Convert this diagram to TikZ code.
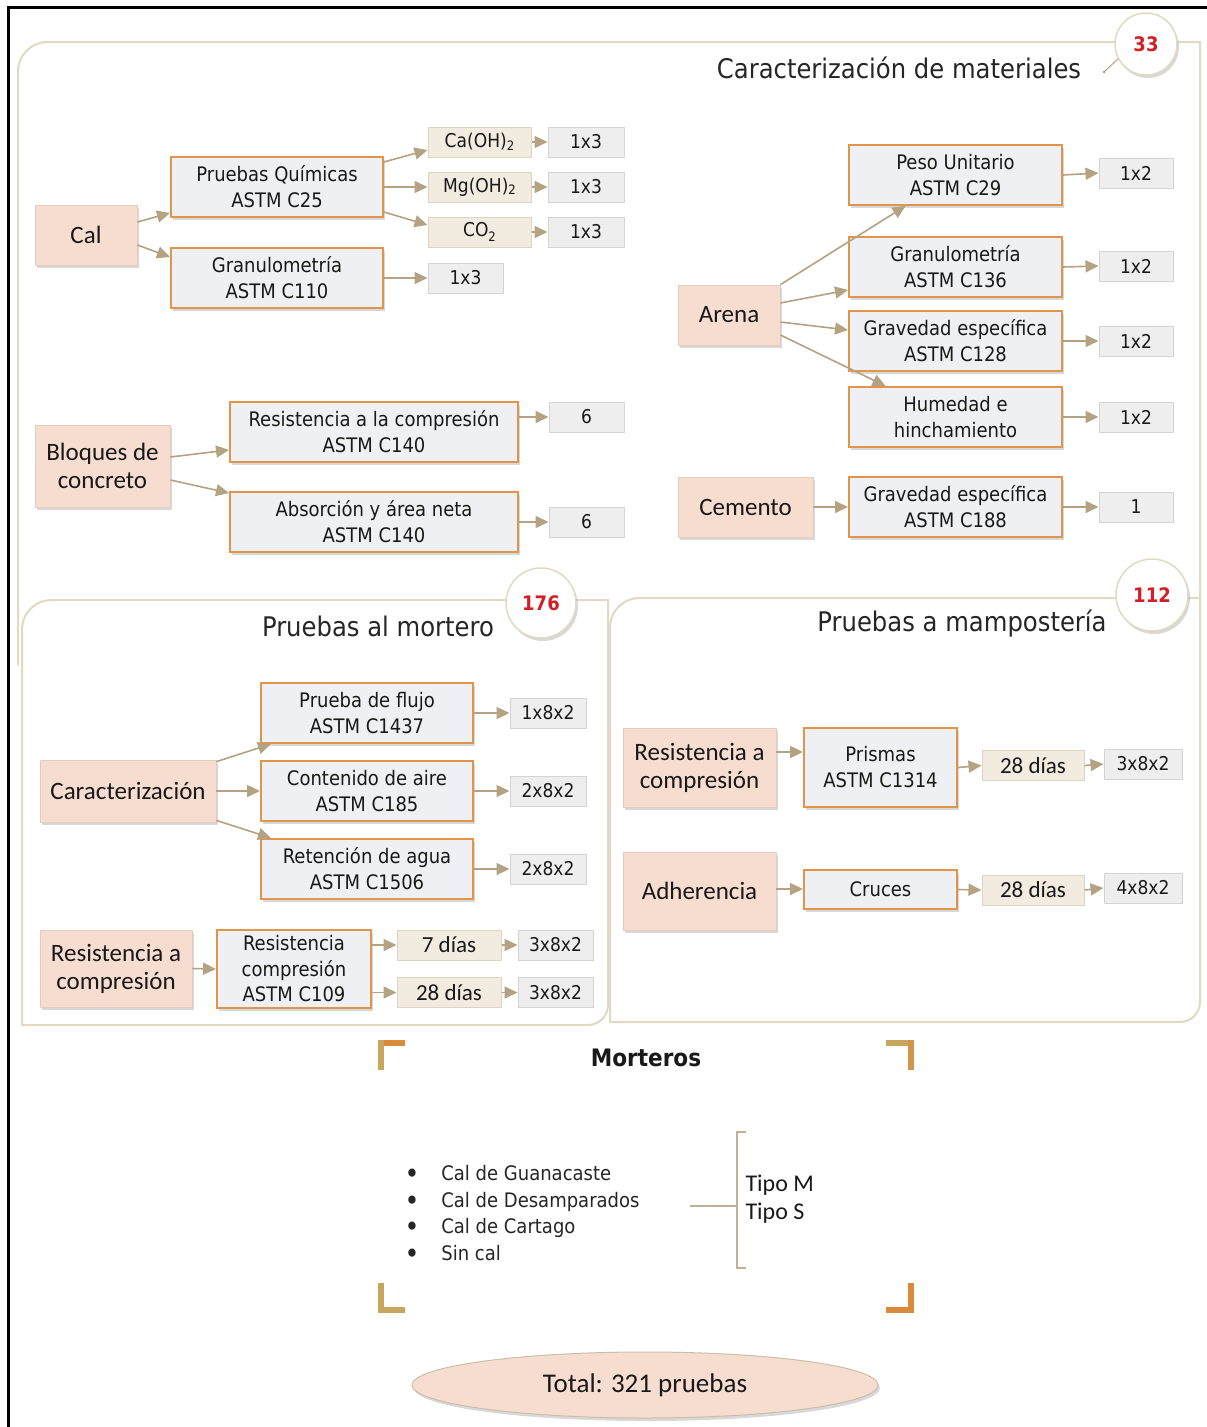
\documentclass[tikz,border=0pt]{standalone}
\usepackage{fontspec}
\newfontfamily\dv[FakeStretch=0.9]{DejaVu Sans}
\newfontfamily\cb{Carlito}
\usetikzlibrary{arrows.meta,shadows,shapes.geometric}
\definecolor{peach}{HTML}{F6DDCF}
\definecolor{peachd}{HTML}{E6CCBA}
\definecolor{tgray}{HTML}{EFF0F3}
\definecolor{torange}{HTML}{E0954A}
\definecolor{cgray}{HTML}{EEEEEE}
\definecolor{cgrayd}{HTML}{D4D4D4}
\definecolor{beige}{HTML}{F2EBDF}
\definecolor{beiged}{HTML}{DDD4C2}
\definecolor{arrc}{HTML}{B3A382}
\definecolor{secc}{HTML}{E2D9C2}
\definecolor{numred}{HTML}{D21F26}
\definecolor{brO}{HTML}{D98A3A}
\definecolor{brG}{HTML}{C9A65E}
\tikzset{
  shd/.style={drop shadow={shadow xshift=2pt, shadow yshift=-3pt, opacity=0.25, fill=black!60}},
  peachbox/.style={rectangle, fill=peach, draw=peachd, line width=0.8pt, shd, inner sep=0pt,
    align=center, text=black!90, font=\cb\fontsize{25}{28}\selectfont},
  testbox/.style={rectangle, fill=tgray, draw=torange, line width=2pt, inner sep=0pt, shd,
    align=center, text=black!90, font=\dv\fontsize{20}{26}\selectfont},
  cntbox/.style={rectangle, fill=cgray, draw=cgrayd, line width=1pt, inner sep=0pt,
    minimum height=30pt, align=center, text=black!90, font=\dv\fontsize{19}{22}\selectfont},
  beigebox/.style={rectangle, fill=beige, draw=beiged, line width=1pt, inner sep=0pt,
    minimum height=30pt, align=center, text=black!90, font=\dv\fontsize{19}{22}\selectfont},
  daybox/.style={beigebox, font=\cb\fontsize{23}{26}\selectfont},
  arr/.style={draw=arrc, line width=1.6pt, -{Triangle[length=13pt,width=12pt]}},
  secline/.style={draw=secc, line width=2pt},
  numcirc/.style={circle, fill=white, draw=secc, line width=1.5pt, shd, inner sep=0pt,
    text=numred, font=\dv\bfseries\fontsize{20}{22}\selectfont},
  sectitle/.style={text=black!85, font=\dv\fontsize{27}{30}\selectfont},
  brk/.style={line width=6pt}
}
\newcommand\subtwo{\raisebox{-0.25ex}{\fontsize{13}{13}\selectfont 2}}
\newcommand\bul{\raisebox{-0.25ex}{\fontsize{28}{20}\selectfont •}\hspace{22pt}}
\begin{document}
\begin{tikzpicture}[x=1pt,y=-1pt]
\useasboundingbox (0,0) rectangle (1207,1427);
\fill[white] (0,0) rectangle (1207,1427);
% outer frame
\draw[black, line width=3pt] (8,1427) -- (8,7) -- (1207,7);

% section frames
\draw[secline] (18,665) -- (18,72) .. controls (18,55) and (31,42) .. (48,42) -- (1200,42) -- (1200,598);
\draw[secline] (610,1022) -- (610,628) .. controls (610,611) and (623,598) .. (640,598) -- (1200,598)
   -- (1200,1002) .. controls (1200,1013) and (1191,1022) .. (1180,1022) -- cycle;
\draw[secline, fill=white] (22,1025) -- (22,630) .. controls (22,613) and (35,600) .. (52,600) -- (608,600)
   -- (608,1005) .. controls (608,1016) and (599,1025) .. (588,1025) -- cycle;

% circles and titles
\node[numcirc, minimum size=62pt] (c33) at (1146,44) {33};
\coordinate (tail33) at (1104,72);
\draw[arrc, line width=1pt] (c33.208) -- (tail33);
\fill[arrc] (tail33) circle (1.5pt);
\node[sectitle] (t1) at (899,68) {Caracterización de materiales};
\node[numcirc, minimum size=70pt] (c176) at (541,603) {176};
\node[sectitle] (t2) at (378,626) {Pruebas al mortero};
\node[numcirc, minimum size=72pt] (c112) at (1152,595) {112};
\node[sectitle] (t3) at (962,624) {Pruebas a mampostería};

% ---- Cal
\node[peachbox, minimum width=102pt, minimum height=60pt] (cal) at (86,235) {Cal};
\node[testbox, minimum width=212pt, minimum height=60pt] (pq) at (277,187) {Pruebas Químicas\\ASTM C25};
\node[testbox, minimum width=212pt, minimum height=60pt] (gr1) at (277,278) {Granulometría\\ASTM C110};
\node[beigebox, minimum width=103pt] (caoh) at (479.5,142) {Ca(OH)\subtwo};
\node[beigebox, minimum width=103pt] (mgoh) at (479.5,187) {Mg(OH)\subtwo};
\node[beigebox, minimum width=103pt] (co2) at (479.5,232) {CO\raisebox{-0.45ex}{\fontsize{13}{13}\selectfont 2}};
\node[cntbox, minimum width=76pt] (k1) at (586,142) {1x3};
\node[cntbox, minimum width=76pt] (k2) at (586,187) {1x3};
\node[cntbox, minimum width=76pt] (k3) at (586,232) {1x3};
\node[cntbox, minimum width=75pt] (k4) at (465.5,278) {1x3};
\draw[arr] ([yshift=13pt]cal.east) -- ([yshift=-26pt]pq.west);
\draw[arr] ([yshift=-10pt]cal.east) -- ([yshift=21pt]gr1.west);
\draw[arr] ([yshift=25pt]pq.east) -- ([yshift=-8pt]caoh.west);
\draw[arr] (pq.east) -- (mgoh.west);
\draw[arr] ([yshift=-25pt]pq.east) -- ([yshift=7pt]co2.west);
\draw[arr] (caoh.east) -- (k1.west);
\draw[arr] (mgoh.east) -- (k2.west);
\draw[arr] (co2.east) -- (k3.west);
\draw[arr] (gr1.east) -- (k4.west);

% ---- Bloques
\node[peachbox, minimum width=135pt, minimum height=82pt] (blq) at (102.5,466) {Bloques de\\concreto};
\node[testbox, minimum width=288pt, minimum height=60pt] (res140) at (374,432) {Resistencia a la compresión\\ASTM C140};
\node[testbox, minimum width=288pt, minimum height=60pt] (abs140) at (374,522) {Absorción y área neta\\ASTM C140};
\node[cntbox, minimum width=75pt] (k6a) at (586.5,417) {6};
\node[cntbox, minimum width=75pt] (k6b) at (586.5,522) {6};
\draw[arr] ([yshift=9pt]blq.east) -- ([yshift=-18pt]res140.west);
\draw[arr] ([yshift=-14pt]blq.east) -- ([yshift=-2pt]abs140.north west);
\draw[arr] ([yshift=15pt]res140.east) -- (k6a.west);
\draw[arr] (abs140.east) -- (k6b.west);

% ---- Arena
\node[peachbox, minimum width=102pt, minimum height=60pt] (are) at (729,315) {Arena};
\node[testbox, minimum width=213pt, minimum height=60pt] (peso) at (955.5,175) {Peso Unitario\\ASTM C29};
\node[testbox, minimum width=213pt, minimum height=60pt] (gr2) at (955.5,267) {Granulometría\\ASTM C136};
\node[testbox, minimum width=213pt, minimum height=60pt] (gv1) at (955.5,341) {Gravedad específica\\ASTM C128};
\node[testbox, minimum width=213pt, minimum height=60pt] (hum) at (955.5,417) {Humedad e\\hinchamiento};
\node[cntbox, minimum width=74pt] (q1) at (1136,173) {1x2};
\node[cntbox, minimum width=74pt] (q2) at (1136,266) {1x2};
\node[cntbox, minimum width=74pt] (q3) at (1136,341) {1x2};
\node[cntbox, minimum width=74pt] (q4) at (1136,417) {1x2};
\draw[arr] (are.north east) -- ([xshift=-50pt]peso.south);
\draw[arr] ([yshift=12pt]are.east) -- ([yshift=-23pt]gr2.west);
\draw[arr] ([yshift=-7pt]are.east) -- ([yshift=11pt]gv1.west);
\draw[arr] ([yshift=-20pt]are.east) -- ([xshift=-70pt]hum.north);
\draw[arr] (peso.east) -- (q1.west);
\draw[arr] (gr2.east) -- (q2.west);
\draw[arr] (gv1.east) -- (q3.west);
\draw[arr] (hum.east) -- (q4.west);

% ---- Cemento
\node[peachbox, minimum width=135pt, minimum height=60pt] (cem) at (745.5,507) {Cemento};
\node[testbox, minimum width=213pt, minimum height=60pt] (gv2) at (955.5,507) {Gravedad específica\\ASTM C188};
\node[cntbox, minimum width=74pt] (q5) at (1136,507) {1};
\draw[arr] (cem.east) -- (gv2.west);
\draw[arr] (gv2.east) -- (q5.west);

% ---- Pruebas al mortero
\node[peachbox, minimum width=176pt, minimum height=62pt] (car) at (128,791) {Caracterización};
\node[testbox, minimum width=212pt, minimum height=60pt] (flu) at (367,713) {Prueba de flujo\\ASTM C1437};
\node[testbox, minimum width=212pt, minimum height=60pt] (air) at (367,791) {Contenido de aire\\ASTM C185};
\node[testbox, minimum width=212pt, minimum height=60pt] (ret) at (367,869) {Retención de agua\\ASTM C1506};
\node[cntbox, minimum width=76pt] (x1) at (548,713) {1x8x2};
\node[cntbox, minimum width=76pt] (x2) at (548,791) {2x8x2};
\node[cntbox, minimum width=76pt] (x3) at (548,869) {2x8x2};
\draw[arr] ([yshift=-2pt]car.north east) -- ([xshift=11pt]flu.south west);
\draw[arr] (car.east) -- (air.west);
\draw[arr] ([yshift=2pt]car.south east) -- ([xshift=11pt]ret.north west);
\draw[arr] (flu.east) -- (x1.west);
\draw[arr] (air.east) -- (x2.west);
\draw[arr] (ret.east) -- (x3.west);

\node[peachbox, minimum width=152pt, minimum height=77pt] (rcl) at (116,968.5) {Resistencia a\\compresión};
\node[testbox, minimum width=154pt, minimum height=78pt, font=\dv\fontsize{20}{25.5}\selectfont] (rcc) at (294,969) {Resistencia\\compresión\\ASTM C109};
\node[daybox, minimum width=104pt] (d7) at (449,945) {7 días};
\node[daybox, minimum width=104pt] (d28) at (449,992.5) {28 días};
\node[cntbox, minimum width=75pt] (r1) at (555.5,945) {3x8x2};
\node[cntbox, minimum width=75pt] (r2) at (555.5,992.5) {3x8x2};
\draw[arr] (rcl.east) -- (rcc.west);
\draw[arr] ([yshift=24pt]rcc.east) -- (d7.west);
\draw[arr] ([yshift=-23.5pt]rcc.east) -- (d28.west);
\draw[arr] (d7.east) -- (r1.west);
\draw[arr] (d28.east) -- (r2.west);

% ---- Pruebas a mamposteria
\node[peachbox, minimum width=153pt, minimum height=79pt] (rcm) at (699.5,767.5) {Resistencia a\\compresión};
\node[testbox, minimum width=153pt, minimum height=79pt] (pri) at (880.5,767.5) {Prismas\\ASTM C1314};
\node[daybox, minimum width=102pt] (m28a) at (1033,765.5) {28 días};
\node[cntbox, minimum width=78pt] (m3) at (1143,764) {3x8x2};
\draw[arr] ([yshift=15.5pt]rcm.east) -- ([yshift=15.5pt]pri.west);
\draw[arr] (pri.east) -- (m28a.west);
\draw[arr] (m28a.east) -- (m3.west);

\node[peachbox, minimum width=153pt, minimum height=78pt] (adh) at (699.5,891) {Adherencia};
\node[testbox, minimum width=153pt, minimum height=39pt] (cru) at (880.5,889.5) {Cruces};
\node[daybox, minimum width=102pt] (m28b) at (1033,890) {28 días};
\node[cntbox, minimum width=78pt] (m4) at (1143,888) {4x8x2};
\draw[arr] ([yshift=2pt]adh.east) -- ([yshift=0.5pt]cru.west);
\draw[arr] (cru.east) -- (m28b.west);
\draw[arr] (m28b.east) -- (m4.west);

% ---- Morteros
\draw[brk, brO] (405,1043) -- (381,1043);
\draw[brk, brG] (381,1040) -- (381,1070);
\draw[brk, brG] (886,1043) -- (911,1043);
\draw[brk, brO!60!brG] (911,1040) -- (911,1070);
\draw[brk, brG] (381,1283) -- (381,1310);
\draw[brk, brG] (378,1310) -- (405,1310);
\draw[brk, brO] (911,1283) -- (911,1313);
\draw[brk, brO] (886,1310) -- (914,1310);
\node[text=black!90, font=\dv\bfseries\fontsize{24}{28}\selectfont] (mort) at (646,1058) {Morteros};

\node[anchor=west, align=left, text=black!85, font=\dv\fontsize{20}{26.5}\selectfont] (lst) at (401,1214.5)
  {\bul Cal de Guanacaste\\\bul Cal de Desamparados\\\bul Cal de Cartago\\\bul Sin cal};
\coordinate (brkL) at (690,1206);
\coordinate (brkV) at (737,1206);
\draw[arrc!85, line width=2pt] (brkL) -- (brkV);
\draw[arrc!85, line width=2pt] (746,1132) -- (737,1132) -- (737,1268) -- (746,1268);
\node[anchor=west, align=left, text=black!90, font=\cb\fontsize{24}{28}\selectfont] (tipo) at (742,1199) {Tipo M\\Tipo S};

\node[ellipse, minimum width=466pt, minimum height=66pt, fill=peach, draw=arrc!70, line width=1pt, shd,
  text=black!90, font=\cb\fontsize{27}{30}\selectfont] (tot) at (645,1385) {Total: 321 pruebas};
\end{tikzpicture}
\end{document}
